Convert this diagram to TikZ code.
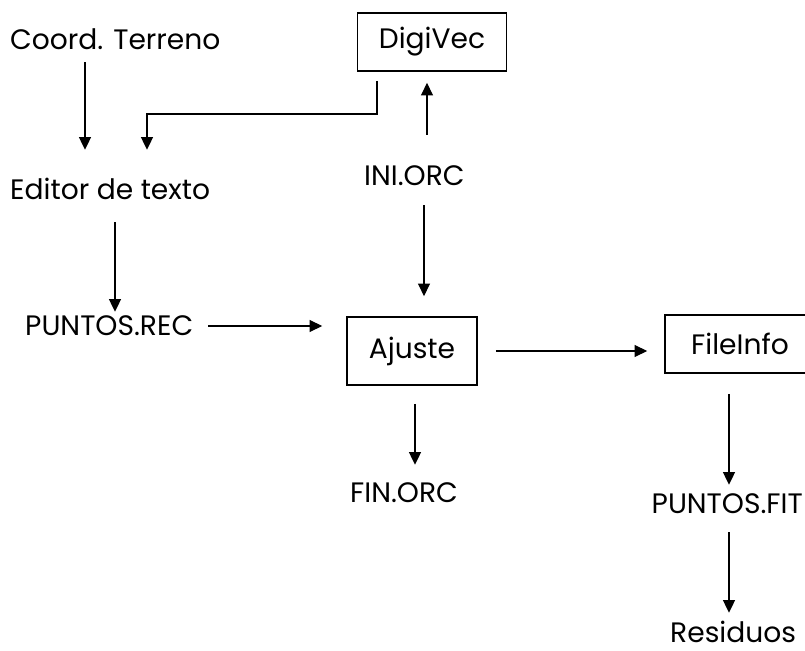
\documentclass[tikz,border=0pt]{standalone}
\usepackage{fontspec}
\setmainfont{Poppins}
\usetikzlibrary{arrows.meta}

\tikzset{
  caja/.style={draw, line width=1.4pt, inner sep=0pt, font=\fontsize{24}{26}\selectfont},
  etiq/.style={inner sep=0pt, anchor=base west, text height=0.6cm, text depth=0pt,
    font=\fontsize{24}{26}\selectfont},
  flecha/.style={-{Triangle[length=0.38cm,width=0.36cm]}, line width=1pt}
}

\begin{document}
\begin{tikzpicture}[x=0.03cm, y=-0.03cm]
\useasboundingbox (0,0) rectangle (805,651);
% texts
\node[etiq] (ct) at (10,50) {Coord. Terreno};
\node[etiq] (et) at (10,200) {Editor de texto};
\node[etiq] (pr) at (25,336) {PUNTOS.REC};
\node[etiq] (ini) at (364,186) {INI.ORC};
\node[etiq] (fin) at (350,502) {FIN.ORC};
\node[etiq, anchor=base east] (pf) at (803,513) {PUNTOS.FIT};
\node[etiq] (res) at (670,642) {Residuos};
% boxes
\node[caja, minimum width=4.47cm, minimum height=1.74cm] (dv) at (432,42) {DigiVec};
\node[caja, minimum width=3.9cm, minimum height=2.04cm] (aj) at (412,351) {Ajuste};
\node[caja, minimum width=4.5cm, minimum height=1.74cm] (fi) at (740,344) {FileInfo};
% connectors
\coordinate (codo) at (147,114);
\draw[flecha, shorten <=0.36cm, shorten >=0.9cm] (ct.south -| 85,0) -- (et.north -| 85,0);
\draw[flecha, shorten <=0.27cm, shorten >=0.9cm] (dv.south -| 377,0) |- (codo) -- (et.north -| codo);
\draw[flecha, shorten <=0.66cm, shorten >=0.12cm] (et.south -| 115,0) -- (pr.north -| 115,0);
\draw[flecha, shorten <=0.45cm, shorten >=0.72cm] (pr.east) -- (aj.west |- pr.east);
\draw[flecha, shorten <=0.54cm, shorten >=0.51cm] (aj.east) -- (fi.west |- aj.east);
\draw[flecha, shorten <=0.93cm, shorten >=0.33cm] (ini.north -| 427,0) -- (dv.south -| 427,0);
\draw[flecha, shorten <=0.57cm, shorten >=0.6cm] (ini.south -| 424,0) -- (aj.north -| 424,0);
\draw[flecha, shorten <=0.54cm, shorten >=0.51cm] (aj.south -| 415,0) -- (fin.north -| 415,0);
\draw[flecha, shorten <=0.6cm, shorten >=0.24cm] (fi.south -| 729,0) -- (pf.north -| 729,0);
\draw[flecha, shorten <=0.57cm, shorten >=0.27cm] (pf.south -| 729,0) -- (res.north -| 729,0);
\end{tikzpicture}
\end{document}
